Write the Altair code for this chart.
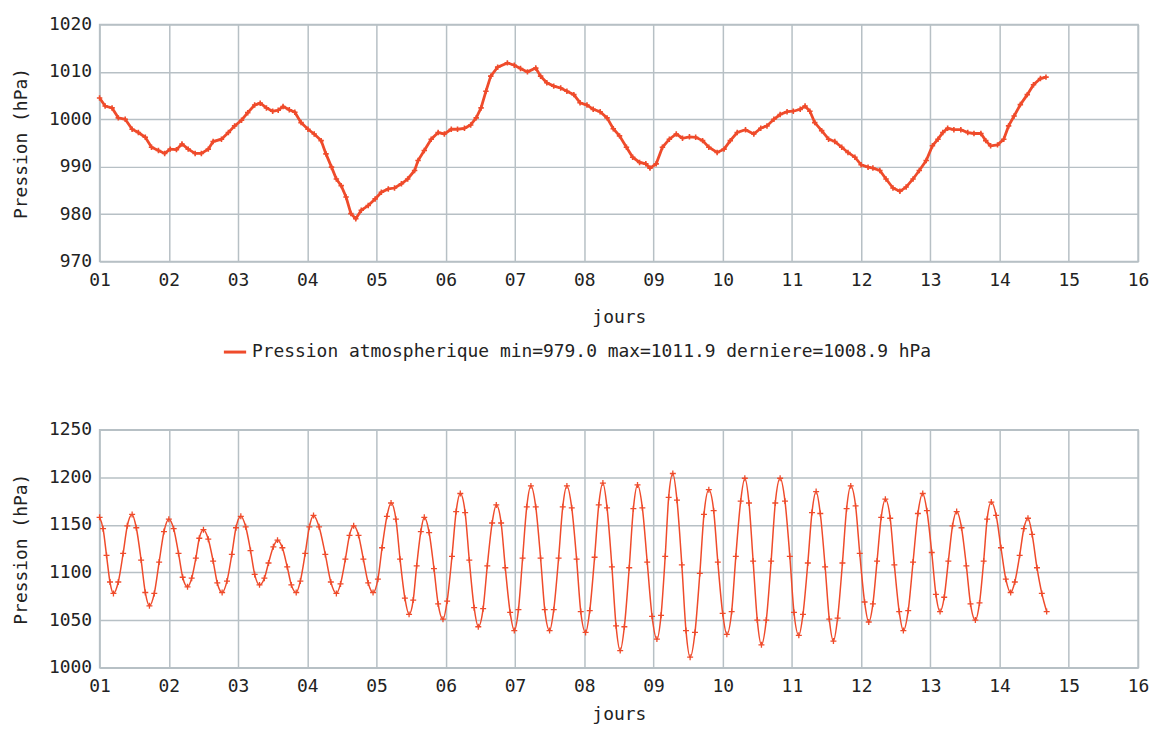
import altair as alt
import pandas as pd

FONT = "DejaVu Sans Mono"
RED = "#ef4b2b"
GRID = "#b7c0c5"
TXT = "#222222"

# ---------- top panel : atmospheric pressure (hPa) ----------
top_day = [
    1.00, 1.08, 1.18, 1.27, 1.37, 1.47, 1.56, 1.66, 1.75, 1.85,
    1.94, 2.02, 2.11, 2.19, 2.28, 2.38, 2.47, 2.57, 2.64, 2.76,
    2.86, 2.95, 3.05, 3.14, 3.24, 3.32, 3.41, 3.50, 3.58, 3.65,
    3.74, 3.82, 3.91, 4.01, 4.10, 4.20, 4.27, 4.35, 4.42, 4.49,
    4.56, 4.63, 4.70, 4.78, 4.88, 4.98, 5.07, 5.17, 5.26, 5.36,
    5.45, 5.55, 5.60, 5.69, 5.79, 5.89, 5.98, 6.08, 6.17, 6.27,
    6.36, 6.44, 6.51, 6.58, 6.65, 6.75, 6.89, 6.99, 7.08, 7.18,
    7.30, 7.37, 7.46, 7.56, 7.66, 7.75, 7.85, 7.94, 8.04, 8.13,
    8.23, 8.33, 8.42, 8.51, 8.61, 8.70, 8.80, 8.89, 8.95, 9.04,
    9.13, 9.23, 9.33, 9.42, 9.52, 9.61, 9.71, 9.80, 9.92, 10.02,
    10.11, 10.21, 10.33, 10.45, 10.55, 10.64, 10.74, 10.83, 10.93, 11.02,
    11.12, 11.19, 11.26, 11.33, 11.43, 11.53, 11.62, 11.72, 11.81, 11.91,
    12.00, 12.10, 12.17, 12.27, 12.36, 12.46, 12.56, 12.65, 12.75, 12.84,
    12.94, 13.03, 13.11, 13.18, 13.25, 13.34, 13.44, 13.54, 13.63, 13.73,
    13.80, 13.87, 13.97, 14.06, 14.13, 14.21, 14.30, 14.40, 14.49, 14.59,
    14.67,
]
top_hpa = [
    1004.5, 1002.8, 1002.4, 1000.3, 1000.0, 997.9, 997.2, 996.2, 994.1, 993.4,
    992.8, 993.7, 993.6, 994.8, 993.7, 992.8, 992.8, 993.7, 995.3, 995.8,
    997.2, 998.6, 999.8, 1001.4, 1003.0, 1003.4, 1002.4, 1001.7, 1001.9, 1002.7,
    1002.0, 1001.5, 999.3, 997.9, 996.9, 995.5, 992.7, 989.9, 987.4, 986.0,
    983.6, 980.1, 979.0, 980.8, 981.8, 983.2, 984.6, 985.3, 985.5, 986.4,
    987.4, 989.2, 991.3, 993.4, 995.8, 997.2, 996.9, 997.9, 997.9, 998.1,
    998.8, 1000.3, 1002.4, 1005.9, 1009.1, 1011.0, 1011.9, 1011.4, 1010.7, 1010.0,
    1010.8, 1009.1, 1007.7, 1007.0, 1006.6, 1005.9, 1005.2, 1003.5, 1003.0, 1002.1,
    1001.6, 1000.3, 998.0, 996.5, 994.1, 992.0, 990.9, 990.6, 989.7, 990.6,
    994.1, 995.8, 996.9, 996.0, 996.3, 996.2, 995.5, 994.1, 993.0, 993.7,
    995.5, 997.2, 997.8, 996.9, 998.1, 998.6, 1000.0, 1001.0, 1001.6, 1001.7,
    1002.1, 1002.8, 1001.7, 999.3, 997.6, 995.8, 995.3, 994.1, 993.0, 992.0,
    990.4, 989.9, 989.7, 989.2, 987.4, 985.5, 984.8, 985.7, 987.4, 989.2,
    991.3, 994.4, 995.8, 997.2, 998.1, 997.8, 997.8, 997.2, 997.0, 997.0,
    995.5, 994.4, 994.6, 995.8, 998.6, 1000.7, 1003.1, 1005.2, 1007.3, 1008.6,
    1008.9,
]
legend_label = "Pression atmospherique min=979.0 max=1011.9 derniere=1008.9 hPa"

# ---------- bottom panel ----------
bot_day = [
    1.00, 1.05, 1.10, 1.15, 1.20, 1.27, 1.34, 1.40, 1.47, 1.53,
    1.60, 1.66, 1.72, 1.79, 1.86, 1.93, 2.00, 2.07, 2.14, 2.20,
    2.27, 2.33, 2.39, 2.44, 2.50, 2.57, 2.64, 2.70, 2.77, 2.84,
    2.91, 2.97, 3.04, 3.11, 3.18, 3.24, 3.31, 3.38, 3.44, 3.51,
    3.57, 3.64, 3.71, 3.77, 3.84, 3.90, 3.97, 4.03, 4.09, 4.17,
    4.26, 4.34, 4.42, 4.48, 4.55, 4.61, 4.67, 4.74, 4.81, 4.88,
    4.95, 5.02, 5.08, 5.15, 5.21, 5.28, 5.34, 5.41, 5.47, 5.53,
    5.58, 5.64, 5.69, 5.76, 5.83, 5.89, 5.96, 6.02, 6.09, 6.15,
    6.21, 6.28, 6.34, 6.41, 6.47, 6.54, 6.60, 6.67, 6.73, 6.80,
    6.86, 6.93, 6.99, 7.05, 7.11, 7.17, 7.23, 7.30, 7.37, 7.43,
    7.50, 7.56, 7.63, 7.69, 7.75, 7.82, 7.89, 7.95, 8.02, 8.08,
    8.15, 8.21, 8.27, 8.33, 8.40, 8.46, 8.52, 8.58, 8.65, 8.71,
    8.77, 8.84, 8.91, 8.98, 9.05, 9.11, 9.17, 9.22, 9.28, 9.34,
    9.41, 9.47, 9.53, 9.60, 9.67, 9.73, 9.80, 9.87, 9.93, 10.00,
    10.06, 10.13, 10.19, 10.26, 10.32, 10.38, 10.44, 10.50, 10.56, 10.63,
    10.70, 10.76, 10.83, 10.90, 10.97, 11.03, 11.10, 11.16, 11.23, 11.29,
    11.35, 11.41, 11.48, 11.54, 11.60, 11.66, 11.73, 11.79, 11.85, 11.92,
    11.98, 12.05, 12.11, 12.17, 12.23, 12.29, 12.35, 12.42, 12.48, 12.55,
    12.61, 12.68, 12.75, 12.82, 12.89, 12.95, 13.02, 13.08, 13.14, 13.20,
    13.26, 13.32, 13.38, 13.45, 13.52, 13.58, 13.65, 13.71, 13.77, 13.82,
    13.88, 13.95, 14.02, 14.09, 14.16, 14.22, 14.29, 14.35, 14.41, 14.47,
    14.54, 14.61, 14.68,
]
bot_hpa = [
    1158, 1146, 1118, 1090, 1078, 1090, 1120, 1149, 1161, 1147,
    1113, 1079, 1065, 1078, 1111, 1143, 1156, 1146, 1120, 1095,
    1085, 1094, 1115, 1136, 1145, 1135, 1112, 1089, 1079, 1091,
    1119, 1147, 1159, 1148, 1123, 1098, 1087, 1094, 1110, 1127,
    1134, 1126, 1106, 1087, 1079, 1091, 1120, 1148, 1160, 1148,
    1119, 1090, 1078, 1088, 1114, 1139, 1149, 1139, 1114, 1089,
    1079, 1093, 1126, 1159, 1173, 1156, 1114, 1073, 1056, 1071,
    1107, 1143, 1158, 1142, 1104, 1067, 1051, 1070, 1117, 1164,
    1183, 1163, 1113, 1063, 1043, 1062, 1107, 1152, 1171, 1152,
    1105, 1058, 1039, 1061, 1115, 1169, 1191, 1169, 1115, 1061,
    1039, 1061, 1115, 1169, 1191, 1168, 1114, 1059, 1037, 1060,
    1116, 1171, 1194, 1168, 1106, 1044, 1018, 1043, 1105, 1167,
    1192, 1168, 1111, 1054, 1030, 1055, 1117, 1179, 1204, 1176,
    1108, 1039, 1011, 1037, 1099, 1161, 1187, 1165, 1111, 1057,
    1035, 1059, 1117, 1175, 1199, 1173, 1112, 1050, 1024, 1050,
    1112, 1173, 1199, 1175, 1117, 1058, 1034, 1056, 1110, 1163,
    1185, 1162, 1106, 1051, 1028, 1052, 1110, 1167, 1191, 1170,
    1120, 1069, 1048, 1067, 1112, 1158, 1177, 1157, 1108, 1059,
    1039, 1060, 1111, 1162, 1183, 1165, 1121, 1077, 1059, 1074,
    1112, 1149, 1164, 1147, 1107, 1067, 1050, 1068, 1112, 1156,
    1174, 1160, 1126, 1093, 1079, 1090, 1118, 1146, 1157, 1140,
    1105, 1078, 1059,
]

day_ticks = list(range(1, 17))
top_ticks = [970, 980, 990, 1000, 1010, 1020]
bot_ticks = [1000, 1050, 1100, 1150, 1200, 1250]

top_df = pd.DataFrame({"jour": top_day, "pression": top_hpa, "serie": legend_label})
bot_df = pd.DataFrame({"jour": bot_day, "pression": bot_hpa})

PLUS = "M-1,0L1,0M0,-1L0,1"


def x_enc(title_pad):
    return alt.X(
        "jour:Q",
        scale=alt.Scale(domain=[1, 16], nice=False, zero=False),
        axis=alt.Axis(
            values=day_ticks,
            labelExpr="format(datum.value, '02d')",
            title="jours",
            titlePadding=title_pad,
            labelPadding=10,
        ),
    )


def y_enc(ticks):
    return alt.Y(
        "pression:Q",
        scale=alt.Scale(domain=[ticks[0], ticks[-1]], nice=False, zero=False),
        axis=alt.Axis(values=ticks, format="d", title="Pression (hPa)",
                      titlePadding=18, labelPadding=8),
    )


top_base = alt.Chart(top_df).encode(x=x_enc(19), y=y_enc(top_ticks))
top_line = top_base.mark_line(strokeWidth=2.8, clip=True).encode(
    color=alt.Color(
        "serie:N",
        scale=alt.Scale(range=[RED]),
        legend=alt.Legend(
            title=None,
            orient="none",
            legendX=123,
            legendY=316,
            padding=0,
            symbolType="stroke",
            symbolStrokeWidth=3,
            symbolSize=500,
            labelFont=FONT,
            labelFontSize=18,
            labelColor=TXT,
            labelLimit=2000,
            labelOffset=4,
        ),
    )
)
top_pts = top_base.mark_point(shape=PLUS, size=30, strokeWidth=1.6, color=RED, filled=False, opacity=1)
top_chart = alt.layer(top_line, top_pts).properties(width=1043, height=238)

bot_base = alt.Chart(bot_df).encode(x=x_enc(10), y=y_enc(bot_ticks))
bot_line = bot_base.mark_line(strokeWidth=1.5, color=RED, interpolate="monotone")
bot_pts = bot_base.mark_point(shape=PLUS, size=36, strokeWidth=1.3, color=RED, filled=False, opacity=1)
bot_chart = alt.layer(bot_line, bot_pts).properties(width=1043, height=239)

chart = (
    alt.vconcat(top_chart, bot_chart, spacing=93)
    .configure(padding={"left": 3, "top": 5, "right": 0, "bottom": 0}, background="white")
    .configure_view(stroke=GRID, strokeWidth=1.5)
    .configure_axis(
        grid=True,
        gridColor=GRID,
        gridWidth=1.5,
        gridOpacity=1,
        domain=False,
        ticks=False,
        labelFont=FONT,
        labelFontSize=18,
        labelColor=TXT,
        labelFlush=False,
        labelOverlap=False,
        titleFont=FONT,
        titleFontSize=18,
        titleFontWeight="normal",
        titleColor=TXT,
    )
)

chart.save("out.html", embed_options={"renderer": "svg", "actions": False})
